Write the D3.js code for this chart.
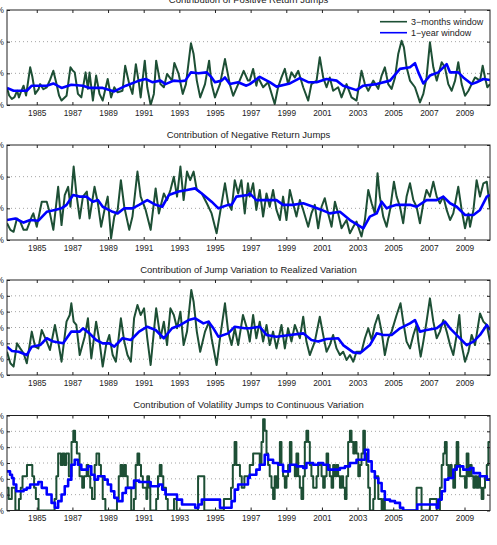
<!DOCTYPE html>
<html><head><meta charset="utf-8">
<script src="https://cdn.jsdelivr.net/npm/d3@7"></script>
<style>
body{margin:0;background:#fff}
svg{display:block}
text{font-family:"Liberation Sans",Arial,sans-serif;fill:#222}
</style>
</head><body>
<svg id="chart" width="497" height="545"></svg>
<script>
// ---------------- DATA ----------------
const titles = [
  "Contribution of Positive Return Jumps",
  "Contribution of Negative Return Jumps",
  "Contribution of Jump Variation to Realized Variation",
  "Contribution of Volatility Jumps to Continuous Variation"
];
const seriesNames = ["3\u2212months window", "1\u2212year window"];
const yearTicks = [1985,1987,1989,1991,1993,1995,1997,1999,2001,2003,2005,2007,2009];
const xDomain = [1983.33, 2010.43];
const yTicksA = [0,10,20,30];          // panels 1-2
const yTicksB = [0,10,20,30,40,50,60]; // panels 3-4

const posGreen = [[1983.33,5.4],[1983.45,3],[1983.6,1.9],[1983.75,2.5],[1983.9,4.5],[1984.0,2.4],[1984.1,4],[1984.26,6.1],[1984.4,3],[1984.63,11.9],[1984.75,9],[1984.91,3.5],[1985.1,5],[1985.19,6.6],[1985.37,5],[1985.56,5.6],[1985.75,8],[1985.93,10.8],[1986.11,6.6],[1986.25,3],[1986.39,1.4],[1986.67,2.9],[1986.89,11.9],[1987.0,11],[1987.13,10.3],[1987.31,3.5],[1987.5,2.4],[1987.74,10.3],[1987.87,5.1],[1987.96,10.3],[1988.15,1.4],[1988.33,9.3],[1988.52,3.5],[1988.7,1.4],[1988.98,8.2],[1989.17,2.4],[1989.35,5.6],[1989.54,4.0],[1989.81,4.5],[1989.96,12.4],[1990.19,6.6],[1990.37,3.5],[1990.56,12.9],[1990.74,6.6],[1990.83,2.4],[1991.06,14],[1991.2,5.6],[1991.39,0],[1991.57,3.5],[1991.7,14],[1991.94,6.6],[1992.13,5.6],[1992.31,9.8],[1992.59,7.7],[1992.72,13.3],[1992.96,9.8],[1993.19,3.5],[1993.37,6.6],[1993.65,19.5],[1993.8,16.1],[1993.98,7.7],[1994.17,2.4],[1994.44,6.6],[1994.67,14],[1994.81,6.6],[1995.0,2.4],[1995.28,6.6],[1995.56,14.5],[1995.83,6.6],[1996.02,2.9],[1996.3,6.6],[1996.61,10.8],[1996.85,7.7],[1996.95,7.7],[1997.14,11.4],[1997.32,6.1],[1997.42,8.7],[1997.7,5.6],[1997.98,7.2],[1998.35,0.3],[1998.54,5.6],[1998.73,8.7],[1998.92,11.4],[1999.1,6.6],[1999.29,10.3],[1999.48,8.7],[1999.67,10.8],[1999.95,5.6],[2000.23,1.4],[2000.41,6.6],[2000.7,7.7],[2000.88,15.1],[2001.07,8.7],[2001.26,5.6],[2001.44,8.7],[2001.63,4.5],[2001.91,5.6],[2002.1,2.4],[2002.38,6.6],[2002.66,2.4],[2002.94,1.4],[2003.22,10.8],[2003.41,6.6],[2003.6,4.5],[2003.88,7.7],[2004.16,5.1],[2004.35,9.3],[2004.53,11.9],[2004.72,6.6],[2004.91,5.1],[2005.1,8.7],[2005.28,16.1],[2005.47,20.3],[2005.6,18.2],[2005.75,11.9],[2005.94,7.7],[2006.22,5.6],[2006.41,2.4],[2006.5,0.8],[2006.69,3.5],[2006.87,8.7],[2007.06,19.8],[2007.25,11.9],[2007.44,7.7],[2007.72,13.5],[2007.9,11.9],[2008.09,6.6],[2008.28,4.5],[2008.47,7.7],[2008.65,13.5],[2008.84,6.6],[2009.03,2.9],[2009.22,4.5],[2009.4,6.6],[2009.59,8.7],[2009.87,7.7],[2010.02,12.4],[2010.15,8.7],[2010.28,5.6],[2010.43,6.6]];
const posBlue = [[1983.33,5.4],[1983.7,4.5],[1984.44,4.5],[1984.72,6.1],[1985.56,6.1],[1985.93,6.8],[1986.39,5.4],[1986.94,6.4],[1987.59,6.1],[1987.96,5.4],[1988.7,5.4],[1989.35,4.3],[1990.0,6.1],[1990.74,7.7],[1991.11,8.2],[1991.48,7.2],[1991.94,7.7],[1992.22,6.6],[1992.69,7.7],[1993.06,7.5],[1993.33,7.7],[1993.65,10.3],[1994.07,10.0],[1994.54,10.3],[1994.81,8.7],[1995.0,7.2],[1995.37,7.7],[1995.56,8.7],[1995.83,6.6],[1996.3,7.2],[1996.76,6.1],[1996.95,6.6],[1997.51,8.9],[1998.07,7.2],[1998.45,5.8],[1999.2,6.8],[1999.76,8.5],[2000.23,7.2],[2000.7,7.2],[2001.26,8.2],[2001.82,7.7],[2002.19,6.1],[2002.94,4.7],[2003.32,6.1],[2004.07,6.6],[2004.82,7.7],[2005.38,11.4],[2005.94,11.9],[2006.22,13.2],[2006.41,10.3],[2006.69,6.8],[2007.06,9.3],[2007.53,10.3],[2008.0,12.9],[2008.19,10.3],[2008.65,10.3],[2008.93,8.7],[2009.4,6.6],[2009.68,7.2],[2010.06,8.2],[2010.43,7.9]];

const negGreen = [[1983.33,5.3],[1983.52,3.2],[1983.7,2.6],[1983.89,6.8],[1984.07,5.8],[1984.26,3.2],[1984.44,3.2],[1984.72,7.4],[1984.81,8.4],[1985.0,4.2],[1985.28,12.1],[1985.56,12.1],[1985.74,8.4],[1985.93,3.2],[1986.2,16.8],[1986.39,4.7],[1986.57,14.2],[1986.76,16.8],[1986.89,10.5],[1987.07,23.2],[1987.22,14.7],[1987.41,6.8],[1987.59,13.7],[1987.81,15.3],[1987.96,6.8],[1988.24,16.8],[1988.43,11.6],[1988.61,4.2],[1988.8,9.5],[1988.98,13.7],[1989.17,0.5],[1989.35,7.4],[1989.54,9.5],[1989.72,18.9],[1989.91,10.5],[1990.19,3.2],[1990.37,7.4],[1990.65,21.6],[1990.83,13.7],[1991.11,9.5],[1991.39,3.2],[1991.67,16.3],[1991.85,8.4],[1992.13,14.7],[1992.31,12.6],[1992.5,15.8],[1992.69,20],[1992.87,13.7],[1993.06,23.2],[1993.24,12.6],[1993.43,21.6],[1993.61,18.9],[1993.8,21.6],[1993.98,15.8],[1994.26,14.7],[1994.54,11.6],[1994.81,8.4],[1995.09,2.1],[1995.28,8.4],[1995.56,17.9],[1995.74,11.6],[1995.93,9.5],[1996.11,18.9],[1996.3,14.7],[1996.48,18.9],[1996.67,8.4],[1996.85,17.9],[1996.95,13.7],[1997.14,17.9],[1997.32,9.5],[1997.51,15.8],[1997.7,7.4],[1997.89,14.7],[1998.07,10.5],[1998.26,15.8],[1998.45,9.5],[1998.64,6.3],[1998.82,13.7],[1999.01,6.3],[1999.2,15.8],[1999.38,11.6],[1999.57,7.4],[1999.76,12.6],[1999.95,9.5],[2000.23,4.2],[2000.41,8.4],[2000.6,11.1],[2000.79,3.7],[2000.98,10.5],[2001.16,13.2],[2001.35,8.4],[2001.54,4.2],[2001.73,12.1],[2001.91,8.4],[2002.1,3.7],[2002.38,6.3],[2002.57,2.1],[2002.76,4.2],[2002.94,5.8],[2003.22,1.1],[2003.41,6.3],[2003.6,15.8],[2003.79,11.6],[2003.97,8.4],[2004.12,21.1],[2004.25,13.7],[2004.44,7.4],[2004.63,4.2],[2004.82,9.5],[2005.04,18.4],[2005.19,13.7],[2005.38,10.5],[2005.56,5.3],[2005.75,13.7],[2005.94,17.9],[2006.13,12.6],[2006.31,10.5],[2006.5,5.3],[2006.69,11.6],[2006.87,15.8],[2007.06,13.7],[2007.25,18.4],[2007.44,13.7],[2007.62,11.6],[2007.81,13.7],[2008.0,9.5],[2008.19,6.3],[2008.37,8.4],[2008.65,16.8],[2008.84,9.5],[2009.03,3.7],[2009.22,8.4],[2009.31,4.2],[2009.5,9.5],[2009.68,18.9],[2009.87,13.7],[2010.06,17.9],[2010.25,18.4],[2010.43,10]];
const negBlue = [[1983.33,6.3],[1983.8,6.8],[1984.26,5.5],[1984.63,6.3],[1985.09,6.1],[1985.56,8.9],[1986.02,9.5],[1986.39,10],[1986.67,11.1],[1987.04,14.2],[1987.41,13.7],[1987.78,13.7],[1988.15,12.1],[1988.43,12.6],[1988.7,10.5],[1989.26,8.9],[1989.54,8.4],[1989.91,10],[1990.37,10],[1990.74,11.1],[1991.2,12.6],[1991.67,11.1],[1992.04,10.5],[1992.41,14.2],[1992.96,15.3],[1993.43,15.8],[1993.89,16.3],[1994.26,14.7],[1994.81,12.1],[1995.19,10],[1995.74,11.1],[1995.93,11.1],[1996.2,13.7],[1996.85,14.2],[1996.95,14.7],[1997.32,12.6],[1997.89,12.6],[1998.45,12.6],[1998.82,11.1],[1999.38,11.1],[1999.95,11.6],[2000.51,10.5],[2000.98,9.5],[2001.44,8.4],[2002.01,8.9],[2002.57,6.3],[2003.32,3.7],[2003.69,7.4],[2004.07,8.4],[2004.35,12.1],[2004.63,10],[2004.82,10.5],[2005.19,11.1],[2005.94,11.1],[2006.31,10.5],[2006.87,12.6],[2007.44,12.6],[2007.81,13.7],[2008.19,11.6],[2008.56,10.5],[2009.03,7.9],[2009.5,7.9],[2009.87,9.5],[2010.25,13.7],[2010.43,14.2]];

const jvGreen = [[1983.33,14.7],[1983.52,7.4],[1983.7,5.3],[1983.89,20],[1984.07,16.8],[1984.26,13.7],[1984.44,7.4],[1984.72,27.4],[1984.91,17.9],[1985.09,16.8],[1985.28,28.4],[1985.56,21.1],[1985.74,15.8],[1986.02,31.6],[1986.2,21.1],[1986.39,8.4],[1986.67,33.7],[1986.85,37.9],[1986.94,45.3],[1987.07,33.7],[1987.22,31.6],[1987.41,12.6],[1987.69,24.2],[1987.87,35.8],[1988.06,10.5],[1988.33,33.7],[1988.52,21.1],[1988.7,5.3],[1988.89,18.9],[1989.07,25.3],[1989.26,12.6],[1989.44,8.4],[1989.72,35.8],[1989.91,21.1],[1990.09,12.6],[1990.28,8.4],[1990.46,35.8],[1990.65,44.2],[1990.83,37.9],[1991.02,42.1],[1991.2,23.2],[1991.39,6.3],[1991.57,27.4],[1991.7,42.1],[1991.94,23.2],[1992.13,33.7],[1992.31,18.9],[1992.5,42.1],[1992.69,37.9],[1992.87,29.5],[1993.06,40],[1993.24,18.9],[1993.43,27.4],[1993.67,53.7],[1993.8,46.3],[1993.98,27.4],[1994.17,14.7],[1994.44,27.4],[1994.67,33.7],[1994.81,23.2],[1995.09,6.3],[1995.28,23.2],[1995.56,45.3],[1995.74,27.4],[1995.93,18.9],[1996.11,29.5],[1996.3,18.9],[1996.57,37.9],[1996.85,27.4],[1996.95,21.1],[1997.14,37.9],[1997.32,23.2],[1997.51,33.7],[1997.7,21.1],[1997.89,31.6],[1998.07,18.9],[1998.26,27.4],[1998.45,16.8],[1998.73,31.6],[1998.92,16.8],[1999.1,29.5],[1999.29,21.1],[1999.48,31.6],[1999.76,23.2],[1999.95,36.8],[2000.13,21.1],[2000.32,12.6],[2000.6,21.1],[2000.88,36.8],[2001.07,25.3],[2001.26,14.7],[2001.44,18.9],[2001.63,25.3],[2001.82,16.8],[2002.01,12.6],[2002.19,14.7],[2002.38,9.5],[2002.57,12.6],[2002.76,8.4],[2002.94,14.7],[2003.22,14.7],[2003.41,23.2],[2003.6,29.5],[2003.79,22.1],[2003.97,31.6],[2004.16,37.9],[2004.35,27.4],[2004.53,12.6],[2004.72,23.2],[2004.91,27.4],[2005.19,37.9],[2005.41,45.3],[2005.56,33.7],[2005.75,21.1],[2005.94,16.8],[2006.13,25.3],[2006.31,31.6],[2006.41,21.1],[2006.54,11.6],[2006.69,21.1],[2006.87,33.7],[2007.06,48.4],[2007.25,33.7],[2007.44,23.2],[2007.62,27.4],[2007.81,34.7],[2008.0,27.4],[2008.19,18.9],[2008.37,12.6],[2008.56,25.3],[2008.71,37.9],[2008.84,18.9],[2009.03,8.4],[2009.22,14.7],[2009.4,25.3],[2009.59,18.9],[2009.87,38.9],[2010.06,33.7],[2010.25,31.6],[2010.43,21.1]];
const jvBlue = [[1983.33,17.9],[1983.61,15.2],[1983.98,14.7],[1984.44,12.6],[1984.72,17.9],[1985.19,18.9],[1985.56,23.2],[1985.93,21.1],[1986.48,20],[1986.94,27.4],[1987.41,27.4],[1987.59,29.5],[1987.96,26.3],[1988.33,22.1],[1988.7,20],[1989.07,20],[1989.35,17.9],[1989.81,23.2],[1990.28,22.1],[1990.74,27.4],[1991.2,30.5],[1991.67,28.4],[1992.13,23.2],[1992.59,29.5],[1993.06,31.6],[1993.52,34.7],[1993.89,35.8],[1994.35,32.6],[1994.63,33.7],[1994.91,29.5],[1995.19,24.2],[1995.74,26.3],[1996.11,30.5],[1996.67,29.5],[1996.95,29.5],[1997.51,30.5],[1997.89,25.3],[1998.45,24.2],[1999.2,25.3],[1999.95,26.3],[2000.41,22.1],[2000.79,21.1],[2001.26,22.7],[2001.91,23.2],[2002.19,18.9],[2002.76,14.3],[2003.13,13.7],[2003.69,18.9],[2004.07,26.3],[2004.44,25.3],[2004.91,25.3],[2005.38,29.5],[2005.94,32.6],[2006.22,34.7],[2006.5,27.4],[2006.87,28.4],[2007.44,29.5],[2007.9,33.7],[2008.19,29.5],[2008.65,24.2],[2009.12,18.9],[2009.5,21.1],[2009.87,25.3],[2010.25,31.6],[2010.43,28.4]];

const vjGreen = [[1983.33,14.4],[1983.42,7.2],[1983.6,14.4],[1983.8,0],[1984.0,7.2],[1984.1,14.4],[1984.2,21.6],[1984.45,28.8],[1984.75,21.6],[1984.85,14.4],[1984.95,7.2],[1985.1,0],[1986.0,7.2],[1986.1,21.6],[1986.2,36],[1986.35,28.8],[1986.45,36],[1986.55,28.8],[1986.65,36],[1986.8,21.6],[1986.95,43.2],[1987.05,50.4],[1987.15,43.2],[1987.25,36],[1987.4,21.6],[1987.55,14.4],[1987.65,21.6],[1987.8,28.8],[1987.9,21.6],[1988.0,14.4],[1988.1,7.2],[1988.25,28.8],[1988.35,36],[1988.5,28.8],[1988.6,21.6],[1988.7,7.2],[1988.85,0],[1989.5,7.2],[1989.6,21.6],[1989.7,28.8],[1989.8,21.6],[1989.9,28.8],[1990.0,21.6],[1990.1,14.4],[1990.3,0],[1990.45,7.2],[1990.55,28.8],[1990.65,36],[1990.75,28.8],[1990.85,21.6],[1990.95,14.4],[1991.15,7.2],[1991.2,21.6],[1991.3,14.4],[1991.37,0],[1991.7,7.2],[1991.8,21.6],[1991.9,28.8],[1992.0,21.6],[1992.1,14.4],[1992.25,7.2],[1992.35,0],[1992.7,7.2],[1992.85,0],[1994.05,21.6],[1994.4,0],[1995.5,7.2],[1995.9,14.4],[1996.0,28.8],[1996.1,43.2],[1996.2,28.8],[1996.4,21.6],[1996.5,14.4],[1996.65,21.6],[1996.95,28.8],[1997.14,36],[1997.51,28.8],[1997.61,43.2],[1997.7,57.6],[1997.79,50.4],[1997.89,36],[1997.98,28.8],[1998.07,21.6],[1998.17,14.4],[1998.26,7.2],[1998.35,21.6],[1998.45,14.4],[1998.54,28.8],[1998.64,43.2],[1998.73,28.8],[1998.82,21.6],[1998.92,14.4],[1999.01,21.6],[1999.1,28.8],[1999.2,43.2],[1999.29,28.8],[1999.48,21.6],[1999.57,36],[1999.67,21.6],[1999.76,14.4],[1999.85,7.2],[1999.95,21.6],[2000.04,43.2],[2000.13,50.4],[2000.23,43.2],[2000.32,28.8],[2000.41,21.6],[2000.51,14.4],[2000.7,21.6],[2000.79,28.8],[2000.98,21.6],[2001.07,14.4],[2001.16,21.6],[2001.26,36],[2001.35,28.8],[2001.44,21.6],[2001.54,14.4],[2001.63,28.8],[2001.73,21.6],[2001.82,28.8],[2001.91,21.6],[2002.01,14.4],[2002.1,21.6],[2002.19,14.4],[2002.29,7.2],[2002.38,21.6],[2002.47,43.2],[2002.57,50.4],[2002.66,43.2],[2002.76,36],[2002.85,43.2],[2002.94,36],[2003.04,21.6],[2003.13,28.8],[2003.22,36],[2003.32,50.4],[2003.41,36],[2003.5,28.8],[2003.6,14.4],[2003.69,0],[2003.88,7.2],[2003.97,21.6],[2004.16,7.2],[2004.35,0],[2004.44,7.2],[2004.53,0],[2006.31,14.4],[2006.59,0],[2007.06,7.2],[2007.44,0],[2007.62,14.4],[2007.72,28.8],[2007.81,36],[2007.9,43.2],[2008.0,28.8],[2008.09,21.6],[2008.19,28.8],[2008.28,21.6],[2008.37,14.4],[2008.47,28.8],[2008.56,43.2],[2008.65,28.8],[2008.75,21.6],[2009.03,14.4],[2009.12,36],[2009.22,21.6],[2009.31,28.8],[2009.4,21.6],[2009.5,14.4],[2009.59,21.6],[2009.68,14.4],[2009.78,21.6],[2009.87,14.4],[2009.96,7.2],[2010.06,14.4],[2010.15,21.6],[2010.25,28.8],[2010.34,43.2],[2010.43,43.2]];
const vjBlue = [[1983.33,24.7],[1983.5,22.6],[1983.61,20.5],[1983.7,16.4],[1983.85,12.2],[1984.07,12.2],[1984.26,13.2],[1984.44,14.3],[1984.63,16.4],[1985.09,18],[1985.28,14.3],[1985.56,10.1],[1985.83,4.8],[1986.02,1.7],[1986.2,5.9],[1986.39,10.1],[1986.57,15.3],[1986.76,19.5],[1986.94,28.9],[1987.13,32.1],[1987.31,28.9],[1987.5,25.8],[1987.69,25.8],[1987.87,27.9],[1988.06,22.6],[1988.24,19.5],[1988.43,21.6],[1988.61,21.6],[1988.8,19.5],[1988.98,16.4],[1989.17,12.2],[1989.35,8],[1989.54,5.9],[1989.81,11.1],[1990.0,14.3],[1990.28,14.3],[1990.46,18.9],[1990.74,18],[1991.11,18],[1991.39,15.3],[1991.67,15.3],[1991.85,16.4],[1992.04,13.2],[1992.22,10.1],[1992.59,10.1],[1992.87,6.9],[1993.15,3.8],[1993.7,3.8],[1993.89,1.7],[1994.07,3.8],[1994.26,6.9],[1995.09,6.9],[1995.28,1.7],[1995.74,1.7],[1995.93,5.9],[1996.11,13.2],[1996.3,16.4],[1996.57,16.4],[1996.85,20.5],[1996.95,22.6],[1997.32,25.8],[1997.51,28.9],[1997.79,35.2],[1997.98,32.1],[1998.26,30],[1998.54,28.9],[1998.82,24.7],[1999.2,28.9],[1999.57,27.9],[1999.95,26.8],[2000.13,30],[2000.51,28.9],[2000.79,30],[2001.07,28.9],[2001.35,25.8],[2001.73,25.8],[2002.01,26.8],[2002.29,27.9],[2002.57,30],[2002.94,32.1],[2003.22,32.1],[2003.41,38.4],[2003.6,31],[2003.79,24.7],[2003.97,20.5],[2004.16,17.4],[2004.35,12.2],[2004.53,6.9],[2004.82,5.9],[2005.1,4.8],[2005.38,1.7],[2005.56,0],[2006.31,0],[2006.35,3.8],[2007.34,3.8],[2007.44,1.7],[2007.53,6.9],[2007.72,12.2],[2007.9,19.5],[2008.09,20.5],[2008.37,25.8],[2008.56,27.9],[2008.93,25.8],[2009.31,26.8],[2009.5,23.6],[2009.87,21.6],[2010.06,21.6],[2010.25,19.5],[2010.43,20.5]];

// ---------------- LAYOUT / STYLE ----------------
const colors = ["#1d4f35", "#0000ff"];
const widths = [2, 2.6];
const L = 7, R = 490, H = 95;
const panels = [
  {top: 10,    title: titles[0], yTicks: yTicksA, green: posGreen, blue: posBlue, step: false, legend: true},
  {top: 145,   title: titles[1], yTicks: yTicksA, green: negGreen, blue: negBlue, step: false},
  {top: 280,   title: titles[2], yTicks: yTicksB, green: jvGreen,  blue: jvBlue,  step: false},
  {top: 415.5, title: titles[3], yTicks: yTicksB, green: vjGreen,  blue: vjBlue,  step: true}
];

const svg = d3.select("#chart");
const x = d3.scaleLinear().domain(xDomain).range([L, R]);

panels.forEach((p, i) => {
  const y = d3.scaleLinear().domain([p.yTicks[0], p.yTicks[p.yTicks.length-1]]).range([p.top + H, p.top]);
  const g = svg.append("g");
  const cid = "clip" + i;
  svg.append("clipPath").attr("id", cid).append("rect")
    .attr("x", L).attr("y", p.top).attr("width", R - L).attr("height", H);

  // gridlines
  g.selectAll(".grid").data(p.yTicks.slice(1, -1)).join("line")
    .attr("x1", L).attr("x2", R).attr("y1", d => y(d)).attr("y2", d => y(d))
    .attr("stroke", "#9a9a9a").attr("stroke-width", 0.9).attr("stroke-dasharray", "1,3");

  // lines (green steps in the volatility-jump panel)
  [p.green, p.blue].forEach((s, k) => {
    const line = d3.line().x(d => x(d[0])).y(d => y(d[1]))
      .curve(p.step && k === 0 ? d3.curveStepAfter : (p.step ? d3.curveStepAfter : d3.curveLinear));
    g.append("path").datum(s).attr("d", line).attr("fill", "none")
      .attr("stroke", colors[k]).attr("stroke-width", widths[k])
      .attr("stroke-linejoin", "round").attr("clip-path", `url(#${cid})`);
  });

  // frame
  g.append("rect").attr("x", L).attr("y", p.top).attr("width", R - L).attr("height", H)
    .attr("fill", "none").attr("stroke", "#222").attr("stroke-width", 1);

  // x ticks (inward, bottom & top) + labels
  const xb = d3.axisBottom(x).tickValues(yearTicks).tickFormat(d3.format("d")).tickSizeInner(-3).tickSizeOuter(0).tickPadding(5);
  const ga = g.append("g").attr("transform", `translate(0,${p.top + H})`).call(xb);
  ga.select(".domain").remove();
  ga.selectAll("line").attr("stroke", "#222");
  ga.selectAll("text").attr("font-size", 8.3).attr("fill", "#222").attr("dy", "0.71em")
    .attr("font-family", '"Liberation Sans",Arial,sans-serif');
  const xt = d3.axisTop(x).tickValues(yearTicks).tickFormat("").tickSizeInner(-3).tickSizeOuter(0);
  const gt = g.append("g").attr("transform", `translate(0,${p.top})`).call(xt);
  gt.select(".domain").remove();
  gt.selectAll("line").attr("stroke", "#222");

  // y ticks (inward) + labels, clipped by the left page edge as in the original
  const yl = d3.axisLeft(y).tickValues(p.yTicks).tickFormat(d => d + "%").tickSizeInner(-3).tickSizeOuter(0).tickPadding(3);
  const gy = g.append("g").attr("transform", `translate(${L},0)`).call(yl);
  gy.select(".domain").remove();
  gy.selectAll("line").attr("stroke", "#222");
  gy.selectAll("text").attr("font-size", 8.3).attr("fill", "#222")
    .attr("font-family", '"Liberation Sans",Arial,sans-serif');
  const yr = d3.axisRight(y).tickValues(p.yTicks).tickFormat("").tickSizeInner(-3).tickSizeOuter(0);
  const gyr = g.append("g").attr("transform", `translate(${R},0)`).call(yr);
  gyr.select(".domain").remove();
  gyr.selectAll("line").attr("stroke", "#222");

  // title
  g.append("text").attr("x", (L + R) / 2).attr("y", p.top - 7.5)
    .attr("text-anchor", "middle").attr("font-size", 9.5).attr("fill", "#222").text(p.title);

  // legend
  if (p.legend) {
    seriesNames.forEach((name, k) => {
      const ly = p.top + 11.7 + k * 11;
      g.append("line").attr("x1", 380).attr("x2", 407).attr("y1", ly).attr("y2", ly)
        .attr("stroke", colors[k]).attr("stroke-width", 1.6);
      g.append("text").attr("x", 411).attr("y", ly).attr("dy", "0.35em")
        .attr("font-size", 9).attr("fill", "#222").text(name);
    });
  }
});
</script>
</body></html>
